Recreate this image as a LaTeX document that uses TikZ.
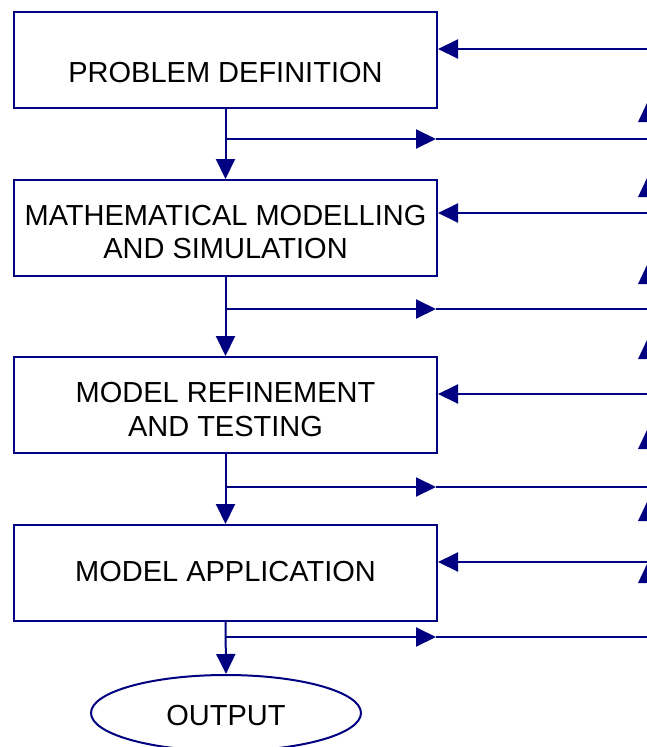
\documentclass[tikz,border=0pt]{standalone}
\usepackage{fontspec}
\setmainfont{Liberation Sans}
\usetikzlibrary{arrows.meta,shapes.geometric}
\definecolor{navyline}{RGB}{0,0,128}
\newcommand{\toplift}{\rule{0pt}{29pt}}
\begin{document}
\begin{tikzpicture}[x=1pt,y=-1pt,
  stage/.style={draw=navyline, line width=2pt, minimum width=423pt,
    minimum height=96pt, inner sep=0pt, align=center, text=black,
    font=\fontsize{29}{33}\selectfont},
  flow/.style={draw=navyline, line width=2pt,
    -{Triangle[length=20pt,width=19pt]}},
  plain/.style={draw=navyline, line width=2pt},
  headup/.style={fill=navyline}
]
\useasboundingbox (0,0) rectangle (647,747);
\clip (0,0) rectangle (647,747);

% process stages
\node[stage, text height=44pt, text depth=0pt] (b1) at (225.5,60) {PROBLEM DEFINITION};
\node[stage] (b2) at (225.5,228) {\toplift MATHEMATICAL MODELLING\\AND SIMULATION};
\node[stage, font=\fontsize{29}{34}\selectfont] (b3) at (225.5,405) {\toplift MODEL REFINEMENT\\AND TESTING};
\node[stage, text height=16pt, text depth=0pt] (b4) at (225.5,573) {MODEL APPLICATION};
\node[draw=navyline, line width=2pt, ellipse, minimum width=270pt,
  minimum height=76pt, inner sep=0pt, text=black, text height=24pt,
  text depth=0pt, font=\fontsize{29}{33}\selectfont] (out) at (226,713) {OUTPUT};

% main downward flow
\draw[flow] (b1.south) -- (b2.north);
\draw[flow] (b2.south) -- (b3.north);
\draw[flow] (b3.south) -- (b4.north);
\draw[flow] (b4.south) -- (out.north);

% feedback entering each stage from the right
\coordinate (in1) at (647,49);
\coordinate (in2) at (647,213);
\coordinate (in3) at (647,394);
\coordinate (in4) at (647,562);
\draw[flow] (in1) -- (b1.east |- in1);
\draw[flow] (in2) -- (b2.east |- in2);
\draw[flow] (in3) -- (b3.east |- in3);
\draw[flow] (in4) -- (b4.east |- in4);

% branches leaving to the right below each stage
\foreach \k/\y in {1/139,2/309,3/487,4/637}{
  \coordinate (j\k) at (225.5,\y);
  \coordinate (m\k) at (436,\y);
  \coordinate (o\k) at (647,\y);
  \draw[flow] (j\k) -- (m\k);
  \draw[plain] (m\k) -- (o\k);
}

% upward arrowheads of the return lines at the right edge
\foreach \b in {122,197,284,359,449,521,583}{
  \fill[headup] (638,\b) -- (656,\b) -- (647,\b-19) -- cycle;
}
\end{tikzpicture}
\end{document}
